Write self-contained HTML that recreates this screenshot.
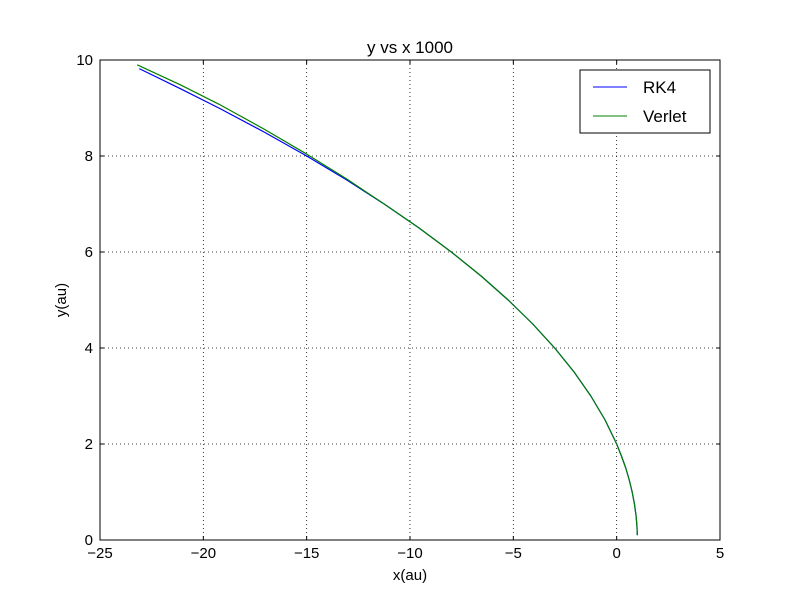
<!DOCTYPE html>
<html><head><meta charset="utf-8"><style>
body{margin:0;background:#fff;}
svg{display:block;font-family:"Liberation Sans","DejaVu Sans",sans-serif;}
</style></head><body>
<svg id="chart" width="800" height="600">
<rect x="0" y="0" width="800" height="600" fill="#fff"/>
<g id="grid"></g>
<g id="series"></g>
<rect x="100" y="60" width="620" height="480" fill="none" stroke="#000" stroke-width="1"/>
<g id="ticks"></g>
<text x="410" y="53" font-size="17" text-anchor="middle">y vs x  1000</text>
<text x="410" y="580" font-size="15" text-anchor="middle">x(au)</text>
<text x="66" y="300" font-size="15" text-anchor="middle" transform="rotate(-90 66 300)">y(au)</text>
<g>
<rect x="580" y="70" width="130" height="63" fill="#fff" stroke="#000" stroke-width="1"/>
<line x1="593" y1="87" x2="627" y2="87" stroke="#0000ff" stroke-width="1"/>
<text x="643" y="93" font-size="17">RK4</text>
<line x1="593" y1="116" x2="627" y2="116" stroke="#008000" stroke-width="1"/>
<text x="643" y="122" font-size="17">Verlet</text>
</g>
</svg>
<script>
const xTicks=[-25,-20,-15,-10,-5,0,5];
const yTicks=[0,2,4,6,8,10];
const rk4Y=[0.1,0.3,0.5,0.75,1,1.25,1.5,1.75,2,2.5,3,3.5,4,4.5,5,5.5,6,6.5,7,7.5,8,8.5,9,9.4,9.82];
const rk4X=[1,0.98,0.94,0.86,0.75,0.61,0.44,0.23,0,-0.56,-1.25,-2.06,-3,-4.06,-5.25,-6.56,-8,-9.56,-11.25,-13.06,-15,-17.06,-19.25,-21.1,-23.1];
const verletY=[0.1,0.3,0.5,0.75,1,1.25,1.5,1.75,2,2.5,3,3.5,4,4.5,5,5.5,6,6.5,7,7.52,8.04,8.56,9.08,9.48,9.9];
const verletX=[1,0.98,0.94,0.86,0.75,0.61,0.44,0.23,0,-0.56,-1.25,-2.06,-3,-4.06,-5.25,-6.56,-8,-9.56,-11.25,-13.06,-15,-17.06,-19.25,-21.1,-23.2];
const NS="http://www.w3.org/2000/svg";
function sx(v){return 100+(v+25)/30*620;}
function sy(v){return 540-v/10*480;}
const grid=document.getElementById('grid'),ticks=document.getElementById('ticks'),series=document.getElementById('series');
function mk(tag,attrs,parent){const e=document.createElementNS(NS,tag);for(const k in attrs)e.setAttribute(k,attrs[k]);parent.appendChild(e);return e;}
xTicks.forEach(t=>{
  const x=sx(t);
  if(t>-25&&t<5){const g=mk('line',{x1:x,y1:60,x2:x,y2:540,stroke:'#000','stroke-dasharray':'1,3','stroke-width':0.8},grid);
  
  }
  const a=mk('line',{x1:x,y1:540,x2:x,y2:536,stroke:'#000'},ticks);
  
  
  const b=mk('line',{x1:x,y1:60,x2:x,y2:64,stroke:'#000'},ticks);
  
  
  const l=mk('text',{x:x,y:558,'font-size':15,'text-anchor':'middle'},ticks);
  l.textContent=t<0?'\u2212'+(-t):String(t);
  
  
});
yTicks.forEach(t=>{
  const y=sy(t);
  if(t>0&&t<10){const g=mk('line',{x1:100,y1:y,x2:720,y2:y,stroke:'#000','stroke-dasharray':'1,3','stroke-width':0.8},grid);
  
  }
  const a=mk('line',{x1:100,y1:y,x2:104,y2:y,stroke:'#000'},ticks);
  
  
  const b=mk('line',{x1:720,y1:y,x2:716,y2:y,stroke:'#000'},ticks);
  
  
  const l=mk('text',{x:93,y:y+5,'font-size':15,'text-anchor':'end'},ticks);
  l.textContent=String(t);
  
  
});
function path(xs,ys){return xs.map((v,i)=>(i?'L':'M')+sx(v).toFixed(2)+','+sy(ys[i]).toFixed(2)).join(' ');}
const p1=mk('path',{d:path(rk4X,rk4Y),fill:'none',stroke:'#0000ff','stroke-width':1.2,'stroke-linejoin':'round'},series);


const p2=mk('path',{d:path(verletX,verletY),fill:'none',stroke:'#008000','stroke-width':1.2,'stroke-linejoin':'round'},series);


</script>
</body></html>
